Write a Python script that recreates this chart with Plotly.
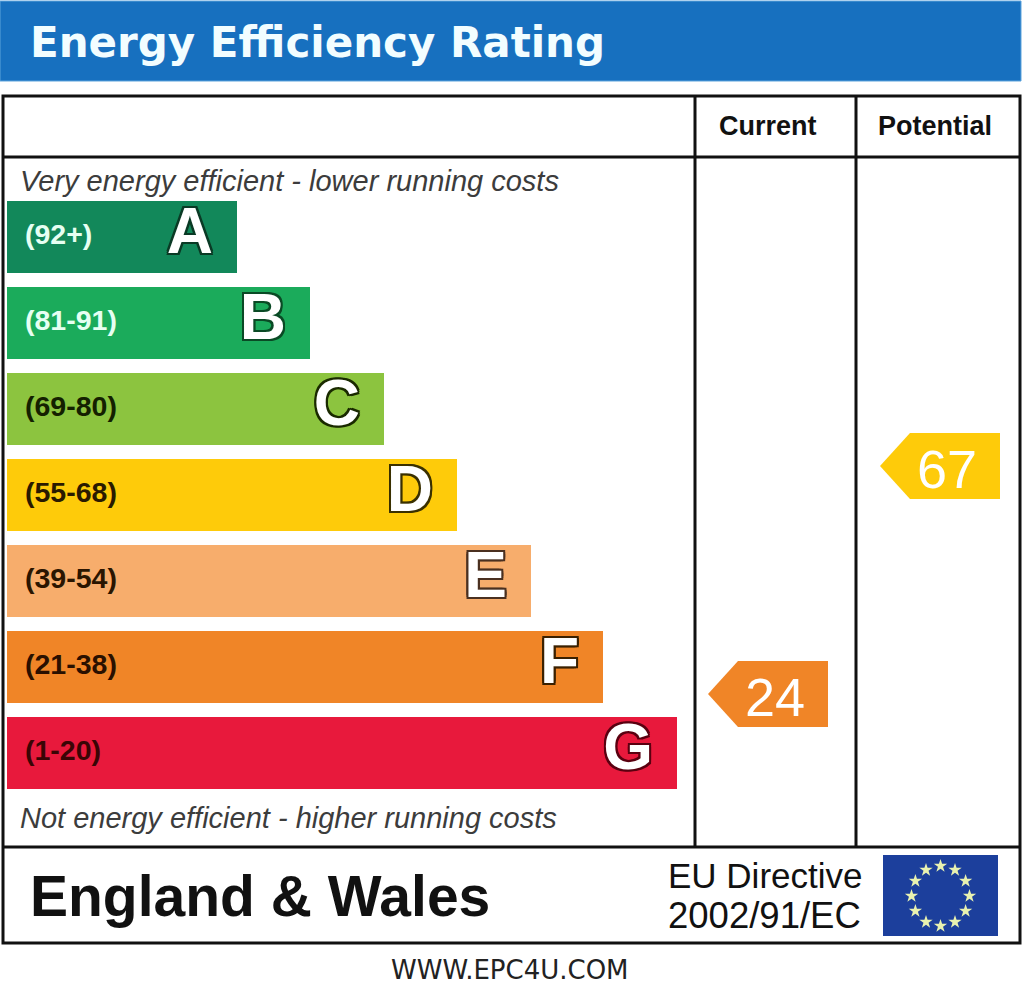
import math
import plotly.graph_objects as go

# ---------------- data ----------------
bands = ["A", "B", "C", "D", "E", "F", "G"]
band_ranges = ["(92+)", "(81-91)", "(69-80)", "(55-68)", "(39-54)", "(21-38)", "(1-20)"]
band_min_scores = [92, 81, 69, 55, 39, 21, 1]
band_bar_lengths = [230, 303, 377, 450, 524, 596, 670]
column_titles = ["Current", "Potential"]
ratings = [24, 67]

# ---------------- styles ----------------
band_colors = ["#12885a", "#1bab5b", "#8cc43f", "#fecb0a", "#f7ad6c", "#f08527", "#e8193c"]
range_label_colors = ["#e6fff2", "#e6fff2", "#142000", "#2a1a00", "#2a1500", "#2a1000", "#3a0505"]
letter_outline = ["#0a3a25", "#0a4a25", "#1a2a00", "#3a3000", "#4a3020", "#3a2000", "#5a0010"]

W, H = 1024, 993
BAR_LEFT = 7
BAND_AXIS_DOMAIN = [1 - 796 / H, 1 - 194 / H]   # band rows region
RATING_AXIS_RANGE = [-32.4, 154.9]             # rating scale for the arrows
ARROW_HALF = 6.22                              # in rating units
ARROW_TIP_X = [708, 880]
ARROW_TIP_W = 30
ARROW_BODY_W = 90
COL_CENTERS = [768, 935]
FONT_ARIAL = "Liberation Sans, Arial, sans-serif"
FONT_WIDE = "DejaVu Sans, Verdana, sans-serif"


def band_index(score):
    for i, m in enumerate(band_min_scores):
        if score >= m:
            return i
    return len(bands) - 1


fig = go.Figure()

# Band bars
fig.add_trace(go.Bar(
    y=bands, x=band_bar_lengths, base=BAR_LEFT, orientation="h",
    marker=dict(color=band_colors, line=dict(width=0)),
    width=72 / 86, xaxis="x", yaxis="y2", hoverinfo="skip", showlegend=False,
))
# Range labels
fig.add_trace(go.Scatter(
    y=bands, x=[BAR_LEFT + 18] * len(bands), mode="text", text=band_ranges,
    textposition="middle right",
    textfont=dict(family=FONT_ARIAL, size=28.5, weight="bold", color=range_label_colors),
    xaxis="x", yaxis="y2", hoverinfo="skip", showlegend=False,
))
# Band letters
for i, b in enumerate(bands):
    o = letter_outline[i]
    sh = ", ".join(f"{dx}px {dy}px 0 {o}" for dx, dy in
                   [(-2, -2), (2, -2), (-2, 2), (2, 2), (0, 2), (0, -2), (2, 0), (-2, 0)])
    fig.add_trace(go.Scatter(
        y=[b], x=[BAR_LEFT + band_bar_lengths[i] - 24], mode="text", text=[b],
        textposition="middle left",
        textfont=dict(family=FONT_ARIAL, size=64, weight="bold", color="white", shadow=sh),
        xaxis="x", yaxis="y2", hoverinfo="skip", showlegend=False,
    ))

# Rating arrows
arrow_labels = []
for k, r in enumerate(ratings):
    col = band_colors[band_index(r)]
    tip = ARROW_TIP_X[k]
    bl = tip + ARROW_TIP_W
    br = bl + ARROW_BODY_W
    fig.add_trace(go.Scatter(
        x=[tip, bl, br, br, bl, tip],
        y=[r, r + ARROW_HALF, r + ARROW_HALF, r - ARROW_HALF, r - ARROW_HALF, r],
        mode="lines", fill="toself", fillcolor=col, line=dict(width=0, color=col),
        xaxis="x", yaxis="y3", hoverinfo="skip", showlegend=False,
    ))
    arrow_labels.append(dict(
        text=str(r), x=tip + 67, y=r, xref="x", yref="y3", xanchor="center",
        yanchor="middle", yshift=-3, showarrow=False,
        font=dict(family=FONT_ARIAL, size=54, color="white"),
    ))

# EU flag stars
star_x = [940.5 + 29 * math.cos(math.radians(a)) for a in range(0, 360, 30)]
star_y = [896 + 30 * math.sin(math.radians(a)) for a in range(0, 360, 30)]
fig.add_trace(go.Scatter(
    x=star_x, y=star_y, mode="markers",
    marker=dict(symbol="star", size=10, color="#e9f2b0", line=dict(width=0)),
    xaxis="x", yaxis="y", hoverinfo="skip", showlegend=False,
))

# ---------------- shapes ----------------
shapes = [
    dict(type="rect", x0=0, x1=1021, y0=1, y1=81, fillcolor="#1770bf",
         line=dict(color="#5ca3dc", width=1), layer="below"),
    dict(type="rect", x0=3, x1=1020, y0=96, y1=943, line=dict(color="#111", width=3)),
    dict(type="line", x0=3, x1=1020, y0=157, y1=157, line=dict(color="#111", width=3)),
    dict(type="line", x0=3, x1=1020, y0=847, y1=847, line=dict(color="#111", width=3)),
    dict(type="line", x0=695, x1=695, y0=96, y1=847, line=dict(color="#111", width=3)),
    dict(type="line", x0=856, x1=856, y0=96, y1=847, line=dict(color="#111", width=3)),
    dict(type="rect", x0=883, x1=998, y0=855, y1=936, fillcolor="#1c3f9c",
         line=dict(width=0), layer="below"),
]
for s in shapes:
    s.setdefault("xref", "x")
    s.setdefault("yref", "y")

# ---------------- annotations ----------------
def ann(text, x, y, size, family=FONT_ARIAL, color="#111", xanchor="left",
        weight="normal", style="normal"):
    return dict(text=text, x=x, y=y, xref="x", yref="y", xanchor=xanchor,
                yanchor="middle", showarrow=False,
                font=dict(family=family, size=size, color=color, weight=weight, style=style))

annotations = [
    ann("Energy Efficiency Rating", 28, 42, 42, FONT_WIDE, "#f2fdff", weight="bold"),
    ann(column_titles[0], COL_CENTERS[0], 126, 27, xanchor="center", weight="bold"),
    ann(column_titles[1], COL_CENTERS[1], 126, 27, xanchor="center", weight="bold"),
    ann("Very energy efficient - lower running costs", 18, 181, 29, color="#3c3c3c", style="italic"),
    ann("Not energy efficient - higher running costs", 18, 818, 29, color="#3c3c3c", style="italic"),
    ann("England &amp; Wales", 28, 896, 57, weight="bold"),
    ann("EU Directive", 666, 875, 35),
    ann("2002/91/EC", 666, 915, 36.5),
    ann("WWW.EPC4U.COM", 510, 970, 26, FONT_WIDE, "#222", xanchor="center"),
] + arrow_labels

fig.update_layout(
    width=W, height=H, margin=dict(l=0, r=0, t=0, b=0),
    paper_bgcolor="white", plot_bgcolor="rgba(0,0,0,0)",
    xaxis=dict(range=[0, W], visible=False, fixedrange=True, domain=[0, 1]),
    yaxis=dict(range=[H, 0], visible=False, fixedrange=True, domain=[0, 1]),
    yaxis2=dict(type="category", categoryorder="array", categoryarray=bands,
                range=[len(bands) - 0.5, -0.5], domain=BAND_AXIS_DOMAIN,
                anchor="x", visible=False, fixedrange=True),
    yaxis3=dict(range=RATING_AXIS_RANGE, overlaying="y", anchor="x",
                visible=False, fixedrange=True),
    shapes=shapes, annotations=annotations, bargap=0,
)

fig.write_html("out.html", config={"displayModeBar": False, "staticPlot": True},
               post_script="document.body.style.margin='0px';document.body.style.overflow='hidden';")
